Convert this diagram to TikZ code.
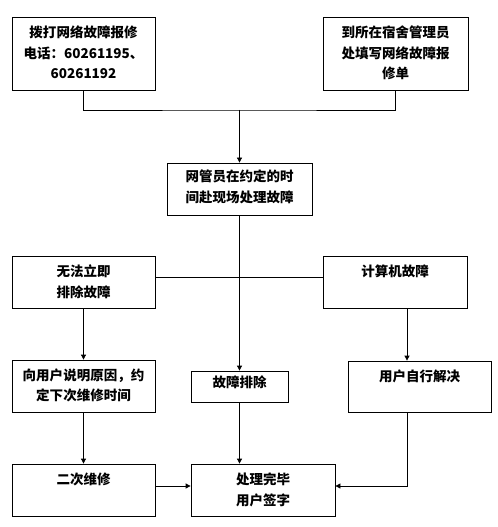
\documentclass[tikz,border=0pt]{standalone}
\usepackage{fontspec}
\setmainfont{Noto Sans CJK SC}
\usepackage{tikz}
\usetikzlibrary{arrows.meta,positioning}
\tikzstyle{box} = [rectangle, draw=black, line width=0.8bp, inner sep=0pt]
\tikzstyle{txt} = [anchor=north, yshift=-9bp, align=center, inner sep=0pt, draw=none, font=\bfseries\fontsize{13.5bp}{20.5bp}\selectfont]
\tikzstyle{l} = [line width=0.8bp, -{Triangle[length=5bp,width=5bp]}]
\tikzstyle{n} = [line width=0.8bp]

\begin{document}
\begin{tikzpicture}[x=1bp,y=-1bp]
	\useasboundingbox[fill=white] (0,0) rectangle (498,527);

	% boxes
	\node[box, minimum width=143bp, minimum height=73bp, label={[txt]north:{拨打网络故障报修\\电话：60261195、\\60261192}}] (call) at (83.5,53.5) {};
	\node[box, minimum width=145bp, minimum height=73bp, label={[txt]north:{到所在宿舍管理员\\处填写网络故障报\\修单}}] (form) at (395.5,53.5) {};
	\node[box, minimum width=145bp, minimum height=52bp, label={[txt, yshift=2bp]north:{网管员在约定的时\\间赴现场处理故障}}] (visit) at (239.5,189) {};

	\node[box, minimum width=143bp, minimum height=52bp, label={[txt]north:{无法立即\\排除故障}}] (cannot) at (83.5,282) {};
	\node[box, minimum width=144bp, minimum height=52bp, label={[txt]north:{计算机故障}}] (pc) at (395,282) {};

	\node[box, minimum width=143bp, minimum height=52bp, label={[txt]north:{向用户说明原因，约\\定下次维修时间}}] (explain) at (83.5,386) {};
	\node[box, minimum width=97bp, minimum height=31bp, label={[txt, yshift=4bp]north:{故障排除}}] (fixed) at (239.5,386.5) {};
	\node[box, minimum width=143bp, minimum height=51bp, label={[txt]north:{用户自行解决}}] (self) at (419.5,386.5) {};

	\node[box, minimum width=143bp, minimum height=52bp, label={[txt]north:{二次维修}}] (second) at (83.5,490) {};
	\node[box, minimum width=144bp, minimum height=52bp, label={[txt]north:{处理完毕\\用户签字}}] (done) at (263,490) {};

	% connectors
	\coordinate (join) at (239.5,110);
	\draw[n] (call.south) |- (join) -| (form.south);
	\draw[l] (join) -- (visit.north);
	\draw[l] (visit.south) -- (fixed.north);
	\draw[n] ([yshift=5bp]cannot.east) -- ([yshift=5bp]cannot.east -| pc.west);
	\draw[l] (cannot.south) -- (explain.north);
	\draw[l] ([xshift=12bp]pc.south) -- ([xshift=12bp]pc.south |- self.north);
	\draw[l] (explain.south) -- (second.north);
	\draw[l] (fixed.south) -- (fixed.south |- done.north);
	\draw[l] ([yshift=4bp]second.east) -- ([yshift=4bp]done.west);
	\draw[l] ([xshift=-12bp]self.south) |- ([yshift=4bp]done.east);
\end{tikzpicture}
\end{document}
